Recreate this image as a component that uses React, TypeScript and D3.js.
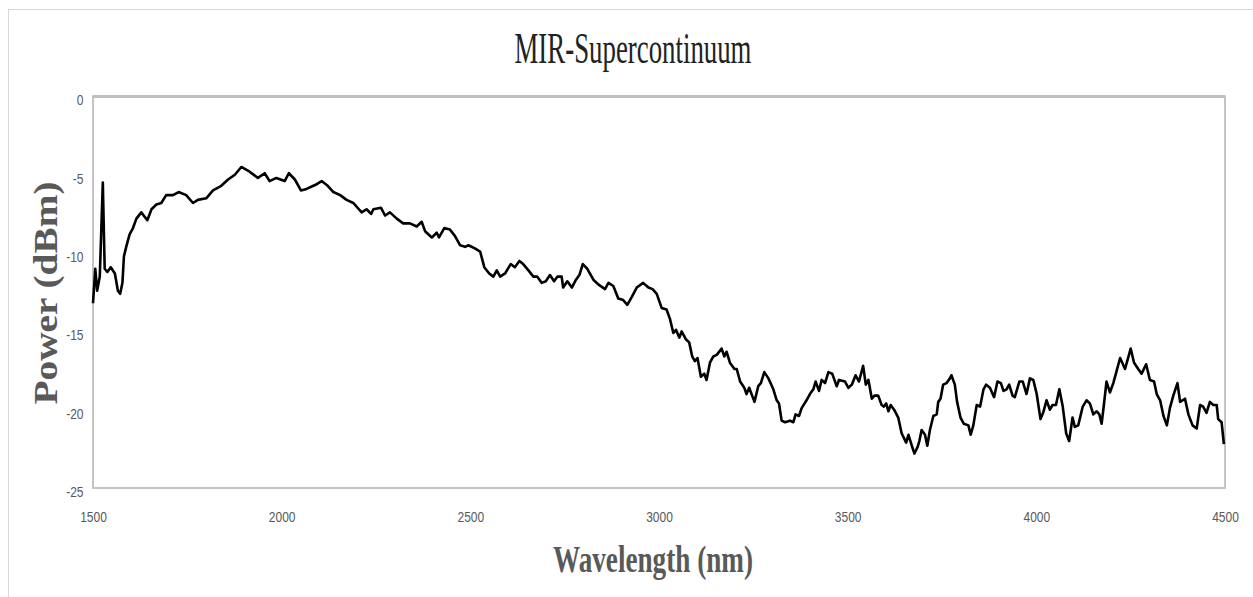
import React, { useEffect, useRef } from 'react';
import * as d3 from 'd3';

// Wavelength samples (nm)
const wavelength = [
  1500, 1506, 1511, 1518, 1526, 1531, 1538, 1547, 1558, 1566, 1572, 1578, 1582, 1588, 1597, 1606, 1615, 1628, 1644, 1655,
  1668, 1681, 1694, 1712, 1727, 1747, 1765, 1778, 1800, 1818, 1840, 1858, 1876, 1893, 1915, 1937, 1955, 1968, 1986, 2008,
  2019, 2035, 2051, 2066, 2084, 2093, 2106, 2122, 2137, 2155, 2172, 2190, 2212, 2225, 2237, 2243, 2263, 2274, 2287, 2305,
  2322, 2340, 2358, 2371, 2380, 2398, 2411, 2417, 2431, 2446, 2459, 2473, 2486, 2495, 2512, 2526, 2537,
  2550, 2561, 2570, 2579, 2592, 2607, 2618, 2630, 2640, 2654, 2667, 2677, 2689, 2700, 2711, 2722, 2731, 2742, 2746, 2757,
  2769, 2780, 2789, 2798, 2810, 2826, 2839, 2857, 2866, 2879, 2892, 2905, 2916, 2928, 2941, 2958, 2972, 2983, 2994, 3007,
  3020, 3029, 3038, 3045, 3054,
  3060, 3071, 3080, 3088, 3095, 3102, 3111, 3120, 3126, 3135, 3144, 3153, 3166, 3173, 3179, 3188, 3200, 3206, 3215, 3226,
  3232, 3239, 3253, 3263, 3270, 3279, 3290, 3303, 3312, 3318, 3325, 3334, 3347, 3356, 3362, 3371, 3378, 3391, 3400, 3409,
  3415, 3424, 3431, 3440, 3449, 3459, 3471, 3477, 3493, 3502, 3511, 3521, 3530, 3541, 3548, 3555, 3564, 3571,
  3581, 3590, 3596, 3602, 3608, 3614, 3623, 3634, 3643, 3655, 3661, 3670, 3677, 3685, 3690, 3696, 3705, 3711, 3718, 3727,
  3736, 3740, 3746, 3753, 3762, 3771, 3775, 3784, 3790, 3799, 3808, 3820, 3826, 3833, 3842, 3851, 3860, 3867, 3877, 3888,
  3897, 3906, 3913, 3921, 3928, 3937, 3943, 3955, 3964, 3974, 3983, 3992, 4001, 4011, 4018, 4027, 4036, 4043, 4052, 4061,
  4070, 4079, 4087,
  4096, 4102, 4111, 4123, 4133, 4142, 4151, 4160, 4167, 4173, 4179, 4186, 4195, 4204, 4213, 4222, 4235, 4242, 4250, 4259,
  4270, 4279, 4291, 4301, 4312, 4319, 4328, 4337, 4346, 4354, 4363, 4374, 4381, 4394, 4403, 4414, 4425, 4434, 4442, 4451,
  4460, 4469, 4478, 4482, 4491, 4497,
];

// Power (dBm) at each wavelength above
const power = [
  -13.2, -11.0, -12.4, -11.5, -5.5, -11.0, -11.2, -10.9, -11.3, -12.4, -12.6, -11.9, -10.2, -9.6, -8.8, -8.4, -7.8, -7.4, -7.9, -7.2,
  -6.9, -6.8, -6.3, -6.3, -6.1, -6.3, -6.8, -6.6, -6.5, -6.0, -5.7, -5.3, -5.0, -4.5, -4.8, -5.2, -4.9, -5.4, -5.2, -5.4,
  -4.9, -5.3, -6.0, -5.9, -5.7, -5.6, -5.4, -5.7, -6.1, -6.3, -6.6, -6.8, -7.4, -7.2, -7.5, -7.2, -7.1, -7.6, -7.4, -7.8,
  -8.1, -8.1, -8.3, -8.0, -8.6, -9.0, -8.7, -9.0, -8.4, -8.5, -8.9, -9.5, -9.6, -9.5, -9.7, -9.9, -10.9,
  -11.3, -11.5, -11.1, -11.5, -11.3, -10.7, -10.9, -10.5, -10.7, -11.1, -11.5, -11.5, -11.9, -11.8, -11.4, -11.8, -11.5, -11.5, -12.2, -11.8,
  -12.2, -11.7, -11.4, -10.7, -11.0, -11.7, -12.0, -12.3, -11.9, -12.1, -12.9, -13.0, -13.3, -12.8, -12.2, -11.9, -12.2, -12.3, -12.6, -13.5,
  -13.6, -14.2, -15.1, -14.9, -15.4,
  -15.0, -15.5, -15.7, -16.6, -16.9, -16.7, -17.9, -17.7, -18.1, -17.0, -16.6, -16.5, -16.1, -16.6, -16.3, -17.0, -17.4, -17.4, -18.2, -18.6,
  -19.0, -18.6, -19.5, -18.5, -18.3, -17.6, -18.0, -18.7, -19.4, -19.6, -20.7, -20.8, -20.7, -20.8, -20.3, -20.4, -19.9, -19.4, -19.0, -18.7,
  -18.2, -18.8, -18.1, -18.3, -17.6, -17.7, -18.5, -18.1, -18.2, -18.6, -18.4, -17.8, -18.2, -17.2, -18.4, -18.1, -19.3, -19.1,
  -19.1, -19.7, -19.8, -19.6, -20.1, -19.7, -20.0, -20.5, -21.5, -22.1, -21.6, -22.3, -22.8, -22.4, -22.0, -21.3, -21.6, -22.3, -21.3, -20.4,
  -20.3, -19.5, -19.3, -18.4, -18.3, -18.0, -17.8, -18.4, -19.5, -20.5, -20.9, -21.0, -21.6, -21.0, -19.7, -19.8, -18.7, -18.4, -18.6, -19.2,
  -18.2, -18.3, -18.8, -18.7, -18.4, -19.1, -19.2, -18.2, -18.2, -19.0, -18.0, -18.1, -19.0, -20.6, -20.2, -19.4, -20.0, -19.7, -19.7, -18.7,
  -19.8, -21.5, -22.0,
  -20.5, -21.1, -21.0, -19.8, -19.4, -19.6, -20.3, -20.1, -20.3, -20.9, -19.7, -18.2, -18.9, -18.3, -17.5, -16.7, -17.4, -16.8, -16.1, -17.0,
  -17.4, -17.7, -17.1, -18.1, -18.2, -19.0, -19.4, -20.4, -21.0, -19.9, -19.1, -18.3, -19.5, -19.3, -20.3, -21.0, -21.2, -19.7, -19.8, -20.2,
  -19.5, -19.7, -19.7, -20.6, -20.8, -22.2,
];

const xTicks = [1500, 2000, 2500, 3000, 3500, 4000, 4500];
const xTickLabels = ['1500', '2000', '2500', '3000', '3500', '4000', '4500'];
const yTicks = [0, -5, -10, -15, -20, -25];
const yTickLabels = ['0', '-5', '-10', '-15', '-20', '-25'];

const App: React.FC = () => {
  const svgRef = useRef<SVGSVGElement>(null);

  useEffect(() => {
    if (!svgRef.current) return;
    const svg = d3.select(svgRef.current);
    svg.selectAll('*').remove();

    const W = 1253;
    const H = 597;
    const plot = { left: 93, right: 1225, top: 96.5, bottom: 488 };

    svg.attr('width', W).attr('height', H);

    svg.append('rect').attr('width', W).attr('height', H).attr('fill', '#fff');

    // outer chart border (only left/top visible)
    svg.append('rect')
      .attr('x', 8.5).attr('y', 9.5)
      .attr('width', W + 20).attr('height', H + 20)
      .attr('fill', 'none')
      .attr('stroke', '#d9d9d9')
      .attr('stroke-width', 1);

    const x = d3.scaleLinear().domain([1500, 4500]).range([plot.left, plot.right]);
    const y = d3.scaleLinear().domain([-25, 0]).range([plot.bottom, plot.top]);

    // plot frame
    svg.append('rect')
      .attr('x', plot.left).attr('y', plot.top)
      .attr('width', plot.right - plot.left)
      .attr('height', plot.bottom - plot.top)
      .attr('fill', 'none')
      .attr('stroke', '#c4c4c4')
      .attr('stroke-width', 2);
    svg.append('line')
      .attr('x1', plot.left).attr('x2', plot.right)
      .attr('y1', plot.top).attr('y2', plot.top)
      .attr('stroke', '#bfbfbf')
      .attr('stroke-width', 3);

    // y axis labels
    const yAxis = svg.append('g')
      .attr('transform', `translate(${plot.left},0)`)
      .call(d3.axisLeft(y).tickValues(yTicks).tickSize(0).tickPadding(11)
        .tickFormat((d, i) => yTickLabels[i]));
    yAxis.selectAll('text')
      .attr('font-family', '"Liberation Sans", Arial, sans-serif')
      .attr('font-size', 14)
      .attr('fill', '#595959')
      .attr('dy', '0.6em')
      .attr('transform', 'scale(0.86,1)');

    // x axis labels
    const xAxis = svg.append('g')
      .attr('transform', `translate(0,${plot.bottom})`)
      .call(d3.axisBottom(x).tickValues(xTicks).tickSize(0).tickPadding(23)
        .tickFormat((d, i) => xTickLabels[i]));
    xAxis.selectAll('text')
      .attr('font-family', '"Liberation Sans", Arial, sans-serif')
      .attr('font-size', 15)
      .attr('fill', '#595959')
      .attr('transform', 'scale(0.8,1)');
    svg.selectAll('.domain').remove();

    // the trace
    const pts = wavelength.map((w, i) => [w, power[i]] as [number, number]);
    const line = d3.line<[number, number]>()
      .x(d => x(d[0]))
      .y(d => y(d[1]));
    svg.append('path')
      .datum(pts)
      .attr('fill', 'none')
      .attr('stroke', '#000')
      .attr('stroke-width', 2.6)
      .attr('stroke-linejoin', 'round')
      .attr('d', line);

    // titles
    svg.append('text')
      .attr('x', 633).attr('y', 63)
      .attr('text-anchor', 'middle')
      .attr('font-family', '"Liberation Serif", "Times New Roman", serif')
      .attr('font-size', 44)
      .attr('textLength', 237)
      .attr('lengthAdjust', 'spacingAndGlyphs')
      .attr('fill', '#222')
      .text('MIR-Supercontinuum');

    svg.append('text')
      .attr('transform', 'translate(57,293) rotate(-90)')
      .attr('text-anchor', 'middle')
      .attr('font-family', '"Liberation Serif", "Times New Roman", serif')
      .attr('font-weight', 'bold')
      .attr('font-size', 33)
      .attr('textLength', 223)
      .attr('lengthAdjust', 'spacingAndGlyphs')
      .attr('fill', '#595959')
      .text('Power (dBm)');

    svg.append('text')
      .attr('x', 653).attr('y', 572)
      .attr('text-anchor', 'middle')
      .attr('font-family', '"Liberation Serif", "Times New Roman", serif')
      .attr('font-weight', 'bold')
      .attr('font-size', 37)
      .attr('textLength', 200)
      .attr('lengthAdjust', 'spacingAndGlyphs')
      .attr('fill', '#595959')
      .text('Wavelength (nm)');
  }, []);

  return (
    <svg ref={svgRef} style={{ position: 'absolute', left: 0, top: 0, display: 'block' }} />
  );
};

export default App;
